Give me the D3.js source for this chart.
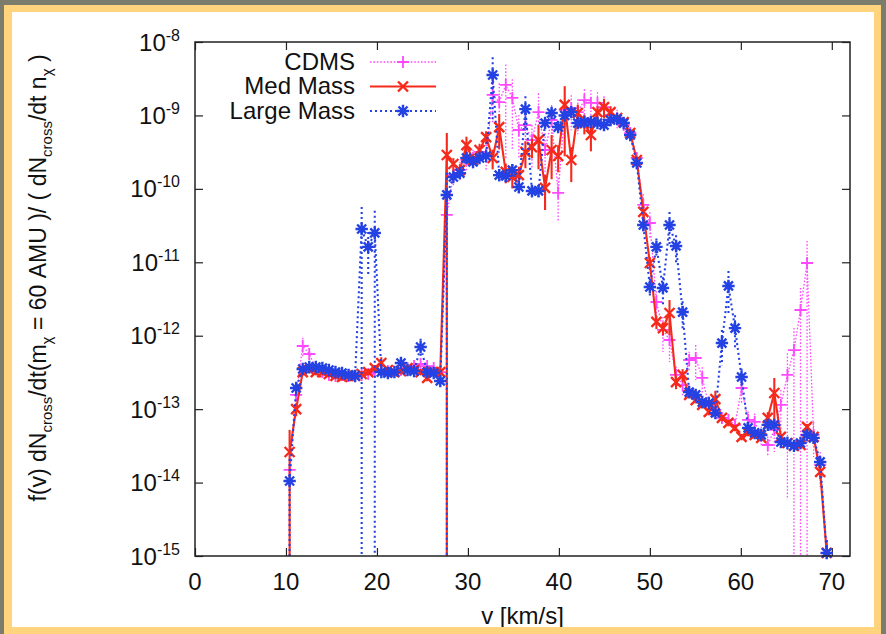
<!DOCTYPE html>
<html>
<head>
<meta charset="utf-8">
<script src="https://cdn.jsdelivr.net/npm/d3@7"></script>
<style>
  html, body { margin: 0; padding: 0; background: #fff; }
  svg { display: block; font-family: "Liberation Sans", Arial, Helvetica, sans-serif; }
</style>
</head>
<body>
<svg id="chart" width="886" height="634"></svg>
<script>
// Velocity bins (km/s)
const velocity = [
  10.4, 11.12, 11.84, 12.56, 13.28, 14.0, 14.72, 15.44, 16.16, 16.88,
  17.6, 18.32, 19.04, 19.76, 20.48, 21.2, 21.92, 22.64, 23.36, 24.08,
  24.8, 25.52, 26.24, 26.96, 27.68, 28.4, 29.12, 29.84, 30.56, 31.28,
  32.0, 32.72, 33.44, 34.16, 34.88, 35.6, 36.32, 37.04, 37.76, 38.48,
  39.2, 39.92, 40.64, 41.36, 42.08, 42.8, 43.52, 44.24, 44.96, 45.68,
  46.4, 47.12, 47.84, 48.56, 49.28, 50.0, 50.72, 51.44, 52.16, 52.88,
  53.6, 54.32, 55.04, 55.76, 56.48, 57.2, 57.92, 58.64, 59.36, 60.08,
  60.8, 61.52, 62.24, 62.96, 63.68, 64.4, 65.12, 65.84, 66.56, 67.28,
  68.0, 68.72, 69.44
];

// CDMS
const cdms = [
  1.49e-14, 1.56e-13, 7.24e-13, 5.64e-13, 3.63e-13, 3.20e-13, 2.92e-13, 2.83e-13, 2.92e-13, 2.83e-13,
  2.83e-13, 2.92e-13, 3.01e-13, 3.20e-13, 3.41e-13, 3.30e-13, 3.20e-13, 3.41e-13, 3.63e-13, 3.86e-13,
  4.12e-13, 3.86e-13, 3.63e-13, 3.20e-13, 4.41e-11, 1.54e-10, 1.80e-10, 2.47e-10, 2.63e-10, 3.18e-10,
  2.89e-10, 1.90e-9, 1.52e-9, 2.60e-9, 1.73e-9, 6.33e-10, 7.40e-10, 4.62e-10, 1.11e-9, 3.38e-10,
  8.66e-10, 8.79e-11, 1.19e-9, 1.26e-9, 1.11e-9, 1.62e-9, 1.48e-9, 1.48e-9, 1.30e-9, 1.01e-9,
  9.22e-10, 7.40e-10, 5.76e-10, 2.63e-10, 6.04e-11, 3.43e-11, 2.88e-12, 1.20e-12, 8.74e-13, 2.92e-13,
  2.13e-13, 4.67e-13, 4.97e-13, 2.66e-13, 1.14e-13, 9.75e-14, 7.59e-14, 7.13e-14, 6.10e-14, 1.94e-13,
  7.13e-14, 6.69e-14, 4.45e-14, 3.25e-14, 5.21e-14, 1.14e-13, 2.92e-13, 6.38e-13, 2.24e-12, 9.78e-12,
  4.45e-14, 1.74e-14, 1.10e-15
];
// relative uncertainty of each CDMS point
const cdmsErr = [
  1.0, 0.3, 0.3, 0.2, 0.1, 0.1, 0.1, 0.1, 0.1, 0.1,
  0.1, 0.1, 0.1, 0.1, 0.1, 0.1, 0.1, 0.1, 0.1, 0.1,
  0.1, 0.1, 0.1, 0.1, 1.0, 0.3, 0.3, 0.3, 0.3, 0.3,
  0.4, 0.6, 0.8, 0.9, 0.8, 0.6, 0.7, 0.6, 0.8, 0.7,
  0.6, 0.6, 0.6, 0.5, 0.5, 0.4, 0.5, 0.4, 0.4, 0.3,
  0.3, 0.2, 0.2, 0.2, 0.4, 0.4, 0.4, 0.5, 0.5, 0.3,
  0.3, 0.3, 0.5, 0.4, 0.3, 0.2, 0.2, 0.2, 0.2, 0.4,
  0.3, 0.3, 0.3, 0.3, 0.5, 0.6, 0.98, 1.0, 1.0, 1.0,
  0.5, 0.5, 0.5
];

// Med Mass
const medMass = [
  2.61e-14, 1.00e-13, 3.20e-13, 3.41e-13, 3.20e-13, 3.20e-13, 3.01e-13, 2.83e-13, 2.74e-13, 2.83e-13,
  2.83e-13, 3.01e-13, 3.20e-13, 3.63e-13, 4.25e-13, 3.41e-13, 3.20e-13, 3.30e-13, 3.63e-13, 3.41e-13,
  3.20e-13, 2.66e-13, 3.20e-13, 3.20e-13, 2.89e-10, 2.18e-10, 1.80e-10, 3.95e-10, 2.47e-10, 3.38e-10,
  5.08e-10, 2.63e-10, 6.95e-10, 1.70e-10, 1.45e-10, 1.54e-10, 3.18e-10, 3.71e-10, 4.62e-10, 1.03e-10,
  3.38e-10, 2.80e-10, 1.39e-9, 2.47e-10, 1.08e-9, 7.88e-10, 5.41e-10, 1.11e-9, 1.30e-9, 1.11e-9,
  9.22e-10, 8.13e-10, 5.76e-10, 2.47e-10, 4.85e-11, 9.78e-12, 1.54e-12, 1.27e-12, 2.04e-12, 2.34e-13,
  2.92e-13, 1.56e-13, 1.33e-13, 1.14e-13, 9.16e-14, 1.37e-13, 7.59e-14, 6.49e-14, 5.55e-14, 4.18e-14,
  4.74e-14, 4.45e-14, 4.06e-14, 7.59e-14, 1.66e-13, 4.18e-14, 3.46e-14, 3.16e-14, 3.25e-14, 5.72e-14,
  4.18e-14, 1.40e-14, 1.10e-15
];
const medMassErr = [
  1.0, 0.2, 0.1, 0.1, 0.1, 0.1, 0.1, 0.1, 0.1, 0.1,
  0.1, 0.1, 0.1, 0.1, 0.2, 0.1, 0.1, 0.1, 0.1, 0.1,
  0.1, 0.1, 0.1, 0.1, 1.0, 0.2, 0.2, 0.3, 0.2, 0.2,
  0.2, 0.3, 0.5, 0.3, 0.3, 0.3, 0.4, 0.3, 0.6, 0.5,
  0.6, 0.4, 0.8, 0.5, 0.3, 0.3, 0.4, 0.2, 0.3, 0.2,
  0.1, 0.1, 0.1, 0.1, 0.2, 0.2, 0.2, 0.2, 0.5, 0.2,
  0.2, 0.1, 0.1, 0.1, 0.1, 0.3, 0.1, 0.1, 0.1, 0.1,
  0.1, 0.1, 0.1, 0.2, 0.6, 0.1, 0.1, 0.1, 0.1, 0.1,
  0.2, 0.2, 0.5
];

// Large Mass
const largeMass = [
  1.05e-14, 1.94e-13, 3.52e-13, 3.75e-13, 3.75e-13, 3.63e-13, 3.41e-13, 3.20e-13, 3.10e-13, 2.92e-13,
  2.83e-13, 2.84e-11, 1.62e-11, 2.51e-11, 3.20e-13, 3.10e-13, 3.20e-13, 4.25e-13, 3.41e-13, 3.30e-13,
  7.02e-13, 3.20e-13, 3.10e-13, 2.42e-13, 8.26e-11, 1.45e-10, 1.64e-10, 2.63e-10, 2.32e-10, 2.63e-10,
  2.80e-10, 3.55e-9, 1.54e-10, 1.50e-10, 1.80e-10, 1.06e-10, 1.22e-9, 9.36e-11, 9.36e-11, 7.88e-10,
  1.08e-9, 6.95e-10, 1.00e-9, 1.11e-9, 7.88e-10, 8.13e-10, 8.13e-10, 7.88e-10, 7.40e-10, 8.66e-10,
  8.93e-10, 7.88e-10, 5.41e-10, 2.25e-10, 3.22e-11, 4.61e-12, 1.62e-11, 4.47e-12, 3.22e-11, 1.67e-11,
  2.10e-12, 1.71e-13, 1.56e-13, 1.25e-13, 1.21e-13, 8.88e-14, 7.95e-13, 4.76e-12, 1.27e-12, 2.74e-13,
  5.55e-14, 4.74e-14, 4.45e-14, 6.10e-14, 6.10e-14, 3.57e-14, 3.46e-14, 3.16e-14, 3.46e-14, 4.45e-14,
  4.06e-14, 1.91e-14, 1.10e-15
];
const largeMassErr = [
  1.0, 0.2, 0.1, 0.1, 0.1, 0.1, 0.1, 0.1, 0.1, 0.1,
  0.1, 1.0, 0.6, 1.0, 0.1, 0.1, 0.1, 0.1, 0.1, 0.1,
  0.3, 0.1, 0.1, 0.1, 1.0, 0.15, 0.15, 0.15, 0.15, 0.15,
  0.15, 0.75, 0.2, 0.2, 0.2, 0.2, 0.5, 0.2, 0.2, 0.15,
  0.15, 0.15, 0.15, 0.15, 0.15, 0.15, 0.15, 0.15, 0.15, 0.15,
  0.15, 0.15, 0.15, 0.1, 0.2, 0.3, 0.3, 0.4, 0.5, 0.4,
  0.4, 0.1, 0.1, 0.1, 0.1, 0.1, 0.5, 0.6, 0.5, 0.3,
  0.1, 0.1, 0.1, 0.1, 0.1, 0.1, 0.1, 0.1, 0.1, 0.1,
  0.1, 0.1, 0.5
];

const xTicks = [0, 10, 20, 30, 40, 50, 60, 70];
const yTickExponents = [-8, -9, -10, -11, -12, -13, -14, -15];
const seriesNames = ["CDMS", "Med Mass", "Large Mass"];

// ---------------------------------------------------------------
const W = 886, H = 634;
const plot = { left: 195, right: 850, top: 42, bottom: 556 };
const FONT = 24, SMALL = 16;

const x = d3.scaleLinear().domain([0, 72]).range([plot.left, plot.right]);
const y = d3.scaleLog().domain([1e-15, 1e-8]).range([plot.bottom, plot.top]);

const svg = d3.select("#chart");
svg.append("rect").attr("width", W).attr("height", H).attr("fill", "#fff");

svg.append("defs").append("clipPath").attr("id", "plotClip")
  .append("rect")
  .attr("x", plot.left).attr("y", plot.top)
  .attr("width", plot.right - plot.left).attr("height", plot.bottom - plot.top);

// tick marks on all four sides, pointing inward
const tickLen = 8;
const axes = svg.append("g").attr("stroke", "#222");
axes.append("g").attr("transform", `translate(0,${plot.bottom})`)
  .call(d3.axisBottom(x).tickValues(xTicks).tickSizeInner(-tickLen).tickSizeOuter(0).tickFormat(""));
axes.append("g").attr("transform", `translate(0,${plot.top})`)
  .call(d3.axisTop(x).tickValues(xTicks).tickSizeInner(-tickLen).tickSizeOuter(0).tickFormat(""));
const yTickValues = yTickExponents.map(e => Math.pow(10, e));
axes.append("g").attr("transform", `translate(${plot.left},0)`)
  .call(d3.axisLeft(y).tickValues(yTickValues).tickSizeInner(-tickLen).tickSizeOuter(0).tickFormat(""));
axes.append("g").attr("transform", `translate(${plot.right},0)`)
  .call(d3.axisRight(y).tickValues(yTickValues).tickSizeInner(-tickLen).tickSizeOuter(0).tickFormat(""));
axes.selectAll(".domain").remove();
axes.selectAll(".tick line").attr("stroke", "#222").attr("stroke-width", 1.2);

// x tick labels
svg.append("g").selectAll("text").data(xTicks).join("text")
  .attr("x", d => x(d)).attr("y", 590)
  .attr("text-anchor", "middle").attr("font-size", FONT).attr("fill", "#111")
  .text(d => d);

// y tick labels: 10 with superscript exponent
const yl = svg.append("g").selectAll("text").data(yTickExponents).join("text")
  .attr("x", 180).attr("y", d => y(Math.pow(10, d)) + 8.5)
  .attr("text-anchor", "end").attr("font-size", FONT).attr("fill", "#111");
yl.append("tspan").text("10");
yl.append("tspan").attr("dy", -10).attr("font-size", SMALL).text(d => String(d));

// axis titles
svg.append("text")
  .attr("x", (plot.left + plot.right) / 2).attr("y", 624)
  .attr("text-anchor", "middle").attr("font-size", FONT).attr("fill", "#111")
  .text("v [km/s]");

const ylab = svg.append("text")
  .attr("transform", "translate(46,278) rotate(-90)")
  .attr("text-anchor", "middle").attr("font-size", 23).attr("fill", "#111");
const labelParts = [
  ["f(v) dN", false], ["cross", true], ["/dt(m", false], ["\u03c7", true],
  [" = 60 AMU )/ ( dN", false], ["cross", true], ["/dt n", false], ["\u03c7", true], [" )", false]
];
let lowered = false;
labelParts.forEach(([t, sub]) => {
  const ts = ylab.append("tspan").text(t);
  if (sub && !lowered) { ts.attr("dy", 6).attr("font-size", 15); lowered = true; }
  else if (sub) { ts.attr("font-size", 15); }
  else if (!sub && lowered) { ts.attr("dy", -6); lowered = false; }
});

// marker shapes
const markerPath = {
  plus: "M-6,0H6M0,-6V6",
  cross: "M-5,-5L5,5M-5,5L5,-5",
  star: "M-6.2,0H6.2M0,-6.2V6.2M-4.5,-4.5L4.5,4.5M-4.5,4.5L4.5,-4.5"
};

const series = [
  { name: seriesNames[0], values: cdms, err: cdmsErr, color: "#ff48ff", width: 1.3, dash: "1.6,1.8", marker: "plus", mw: 1.8 },
  { name: seriesNames[1], values: medMass, err: medMassErr, color: "#f62a1c", width: 2.1, dash: null, marker: "cross", mw: 2.4 },
  { name: seriesNames[2], values: largeMass, err: largeMassErr, color: "#2442e4", width: 2.1, dash: "2,3", marker: "star", mw: 2.4 }
];

const idx = d3.range(velocity.length);
const line = vals => d3.line().x(i => x(velocity[i])).y(i => y(vals[i]));

series.forEach(s => {
  const g = svg.append("g");
  const clipped = g.append("g").attr("clip-path", "url(#plotClip)")
    .attr("fill", "none").attr("stroke", s.color).attr("stroke-width", s.width);
  if (s.dash) clipped.attr("stroke-dasharray", s.dash);

  // error bars
  clipped.selectAll("line").data(idx).join("line")
    .attr("x1", i => x(velocity[i])).attr("x2", i => x(velocity[i]))
    .attr("y1", i => y(s.values[i] * (1 + s.err[i])))
    .attr("y2", i => {
      const lo = s.values[i] * (1 - s.err[i]);
      return lo > 1e-15 ? y(lo) : plot.bottom + 10;
    });

  // connecting line
  clipped.append("path").attr("d", line(s.values)(idx));

  // point symbols
  g.append("g").attr("fill", "none").attr("stroke", s.color).attr("stroke-width", s.mw)
    .selectAll("path").data(idx).join("path")
    .attr("transform", i => `translate(${x(velocity[i])},${y(s.values[i])})`)
    .attr("d", markerPath[s.marker]);
});

// key
const key = svg.append("g");
series.forEach((s, k) => {
  const ly = 62 + k * 24.5;
  key.append("text").attr("x", 355).attr("y", ly + 7.5)
    .attr("text-anchor", "end").attr("font-size", FONT).attr("fill", "#111").text(s.name);
  const ln = key.append("line").attr("x1", 370).attr("x2", 436).attr("y1", ly).attr("y2", ly)
    .attr("stroke", s.color).attr("stroke-width", s.width);
  if (s.dash) ln.attr("stroke-dasharray", s.dash);
  key.append("path").attr("transform", `translate(403,${ly})`).attr("d", markerPath[s.marker])
    .attr("fill", "none").attr("stroke", s.color).attr("stroke-width", s.mw);
});

// plot border
svg.append("rect")
  .attr("x", plot.left).attr("y", plot.top)
  .attr("width", plot.right - plot.left).attr("height", plot.bottom - plot.top)
  .attr("fill", "none").attr("stroke", "#222").attr("stroke-width", 1.5);

// slide frame around the figure
const frame = svg.append("g");
frame.append("path")
  .attr("fill-rule", "evenodd").attr("fill", "#7c7c6c")
  .attr("d", `M0,0H${W}V${H}H0Z M4,5H881V${H}H4Z`);
frame.append("path")
  .attr("fill-rule", "evenodd").attr("fill", "#ffd47c")
  .attr("d", `M4,5H881V${H}H4Z M12,12H874V627H12Z`);
</script>
</body>
</html>
